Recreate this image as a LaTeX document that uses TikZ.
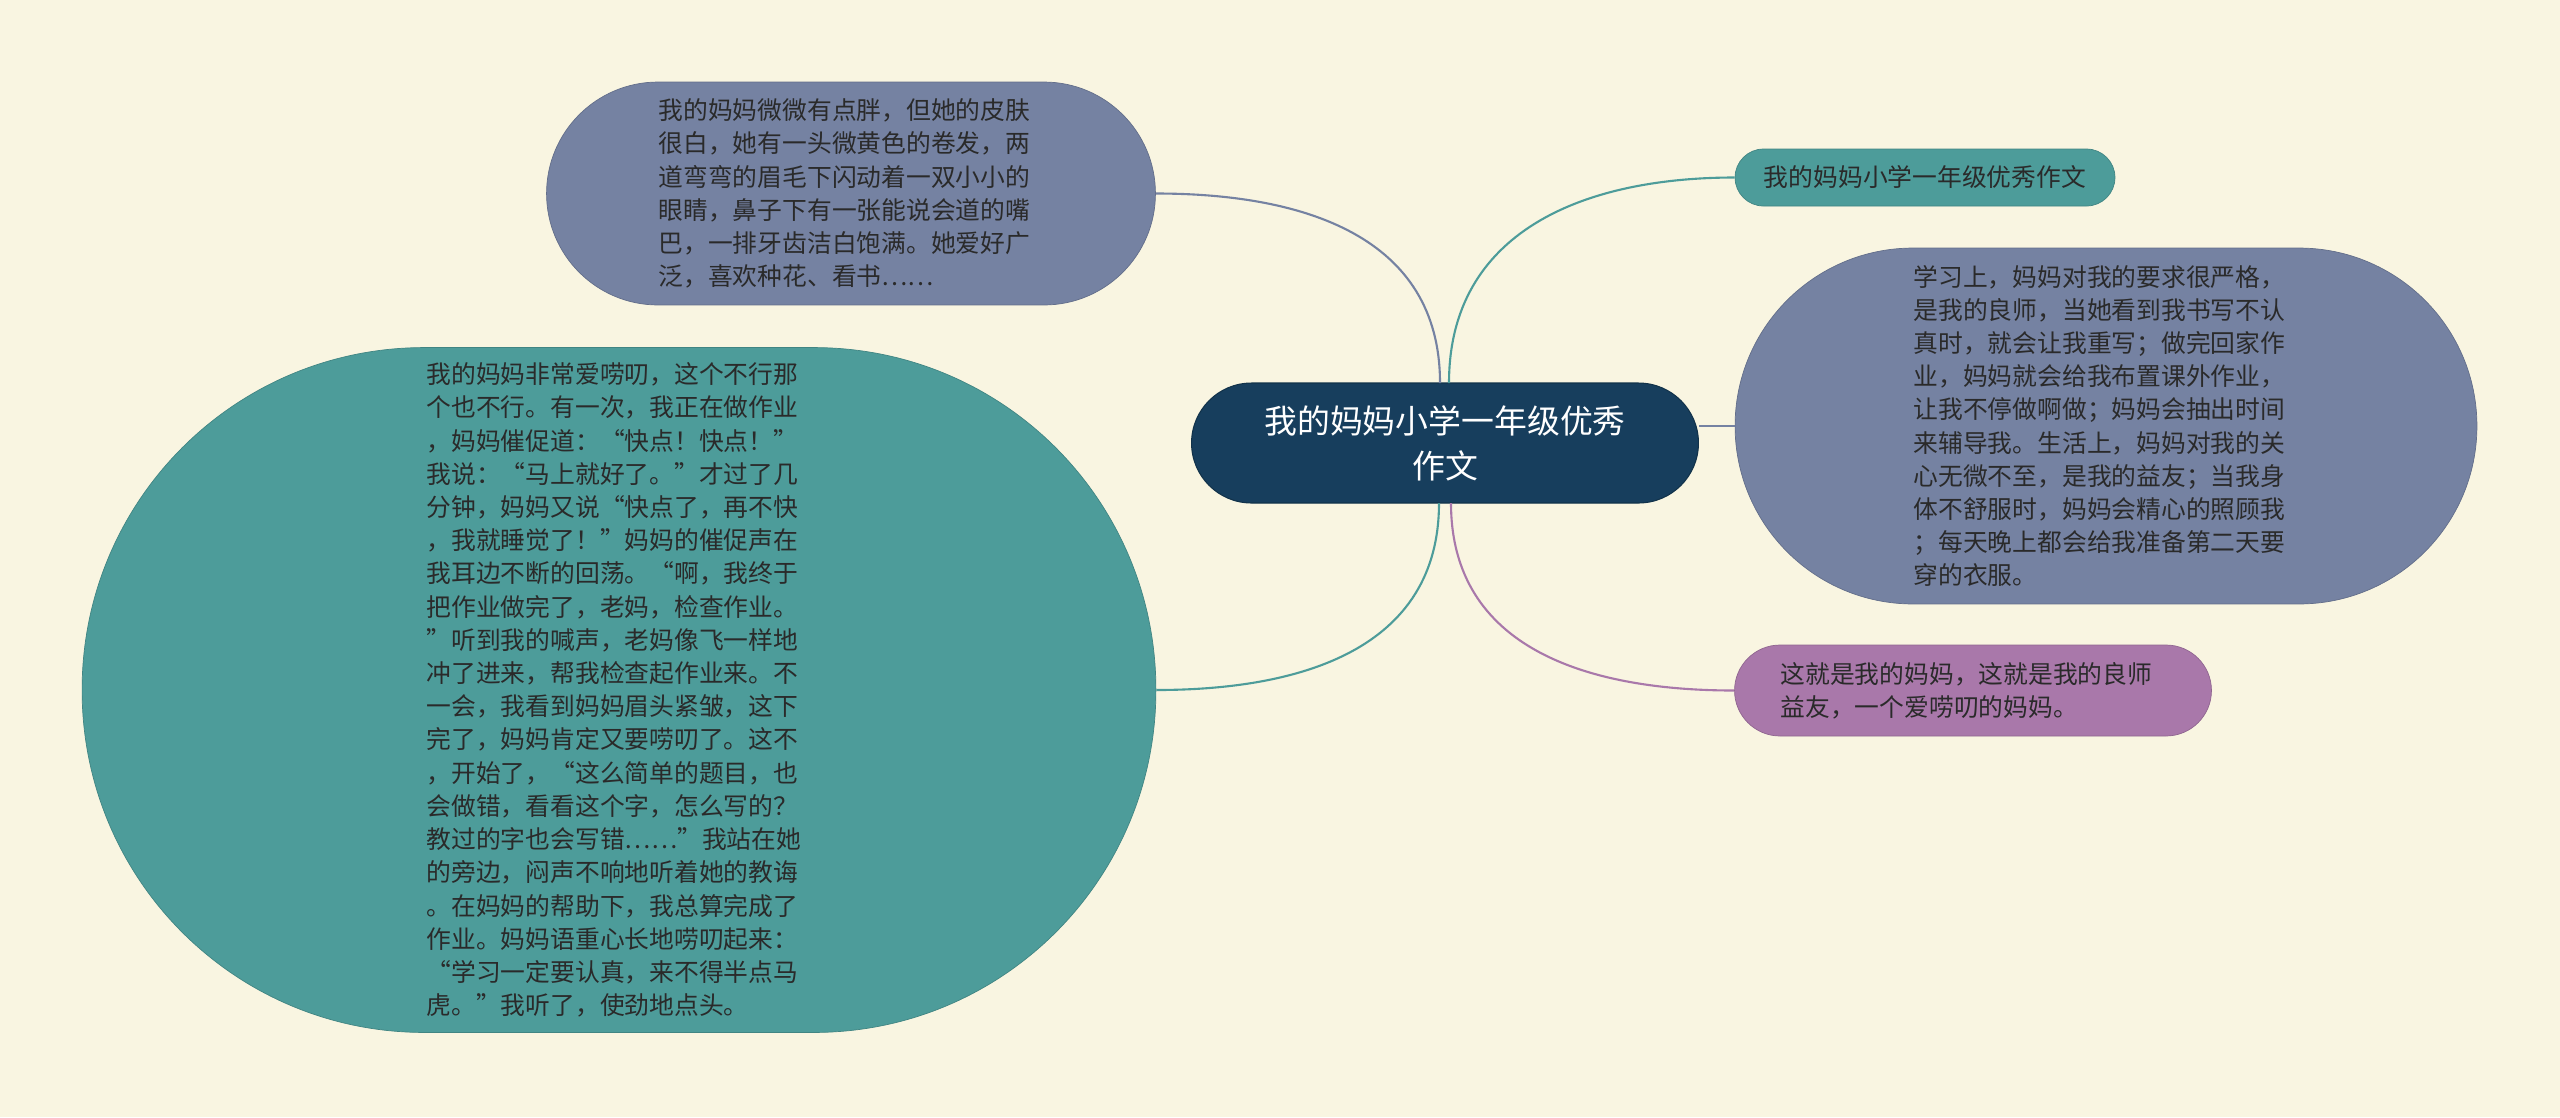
\documentclass[tikz,border=0pt]{standalone}
\usepackage{fontspec}
\newfontfamily\cjk{Noto Sans CJK SC}
\definecolor{bgcream}{HTML}{F9F5E1}
\definecolor{navy}{HTML}{173E5D}
\definecolor{slate}{HTML}{7582A2}
\definecolor{teal}{HTML}{4D9C9A}
\definecolor{plum}{HTML}{A978AA}
\definecolor{ink}{HTML}{2A2A2A}

\begin{document}
\begin{tikzpicture}[x=0.02cm,y=0.02cm,
  topic/.style={rectangle,inner sep=0pt,text=ink,align=left,
    font={\cjk\fontsize{14.1pt}{18.9pt}\selectfont}},
  link/.style={line width=1.2pt,#1}]
\useasboundingbox[fill=bgcream] (0,0) rectangle (2560,-1117);

% central topic
\node[rectangle,inner sep=0pt,fill=navy,draw=navy!80!black,line width=0.6pt,rounded corners=1.2cm,
  minimum width=10.14cm,minimum height=2.4cm,text=white,align=center,
  font={\cjk\fontsize{18.7pt}{25.5pt}\selectfont}] (c) at (1445,-443) {我的妈妈小学一年级优秀\\作文};

% left side
\node[topic,fill=slate,draw=slate!85!black,rounded corners=2.23cm,
  minimum width=12.18cm,minimum height=4.46cm,text width=219pt] (tl) at (851,-193.5)
  {我的妈妈微微有点胖，但她的皮肤\\很白，她有一头微黄色的卷发，两\\道弯弯的眉毛下闪动着一双小小的\\眼睛，鼻子下有一张能说会道的嘴\\巴，一排牙齿洁白饱满。她爱好广\\泛，喜欢种花、看书……};
\node[topic,fill=teal,draw=teal!85!black,rounded corners=6.84cm,
  minimum width=21.48cm,minimum height=13.7cm,text width=219pt] (bl) at (619,-690)
  {我的妈妈非常爱唠叨，这个不行那\\个也不行。有一次，我正在做作业\\，妈妈催促道：“快点！快点！”\\我说：“马上就好了。”才过了几\\分钟，妈妈又说“快点了，再不快\\，我就睡觉了！”妈妈的催促声在\\我耳边不断的回荡。“啊，我终于\\把作业做完了，老妈，检查作业。\\”听到我的喊声，老妈像飞一样地\\冲了进来，帮我检查起作业来。不\\一会，我看到妈妈眉头紧皱，这下\\完了，妈妈肯定又要唠叨了。这不\\，开始了，“这么简单的题目，也\\会做错，看看这个字，怎么写的？\\教过的字也会写错……”我站在她\\的旁边，闷声不响地听着她的教诲\\。在妈妈的帮助下，我总算完成了\\作业。妈妈语重心长地唠叨起来：\\“学习一定要认真，来不得半点马\\虎。”我听了，使劲地点头。};

% right side
\node[topic,fill=teal,draw=teal!85!black,rounded corners=0.57cm,
  minimum width=7.6cm,minimum height=1.14cm] (tr) at (1925,-177.5) {我的妈妈小学一年级优秀作文};
\node[topic,fill=slate,draw=slate!85!black,rounded corners=3.56cm,
  minimum width=14.84cm,minimum height=7.12cm,text width=219pt] (rb) at (2106,-426)
  {学习上，妈妈对我的要求很严格，\\是我的良师，当她看到我书写不认\\真时，就会让我重写；做完回家作\\业，妈妈就会给我布置课外作业，\\让我不停做啊做；妈妈会抽出时间\\来辅导我。生活上，妈妈对我的关\\心无微不至，是我的益友；当我身\\体不舒服时，妈妈会精心的照顾我\\；每天晚上都会给我准备第二天要\\穿的衣服。};
\node[topic,fill=plum,draw=plum!85!black,rounded corners=0.91cm,
  minimum width=9.54cm,minimum height=1.82cm,text width=219pt] (br) at (1973,-690.5)
  {这就是我的妈妈，这就是我的良师\\益友，一个爱唠叨的妈妈。};

% connector ends on the central topic
\coordinate (ctl) at (1440,-383);
\coordinate (ctr) at (1449,-383);
\coordinate (cbl) at (1439,-503);
\coordinate (cbr) at (1451,-503);

\draw[link=slate] (tl.east) to[out=0,in=90,looseness=1.1] (ctl);
\draw[link=teal] (bl.east) to[out=0,in=-90,looseness=1.1] (cbl);
\draw[link=teal] (tr.west) to[out=180,in=90,looseness=1.1] (ctr);
\draw[link=slate] (rb.west) -- (rb.west -| c.east);
\draw[link=plum] (br.west) to[out=180,in=-90,looseness=1.1] (cbr);
\end{tikzpicture}
\end{document}
